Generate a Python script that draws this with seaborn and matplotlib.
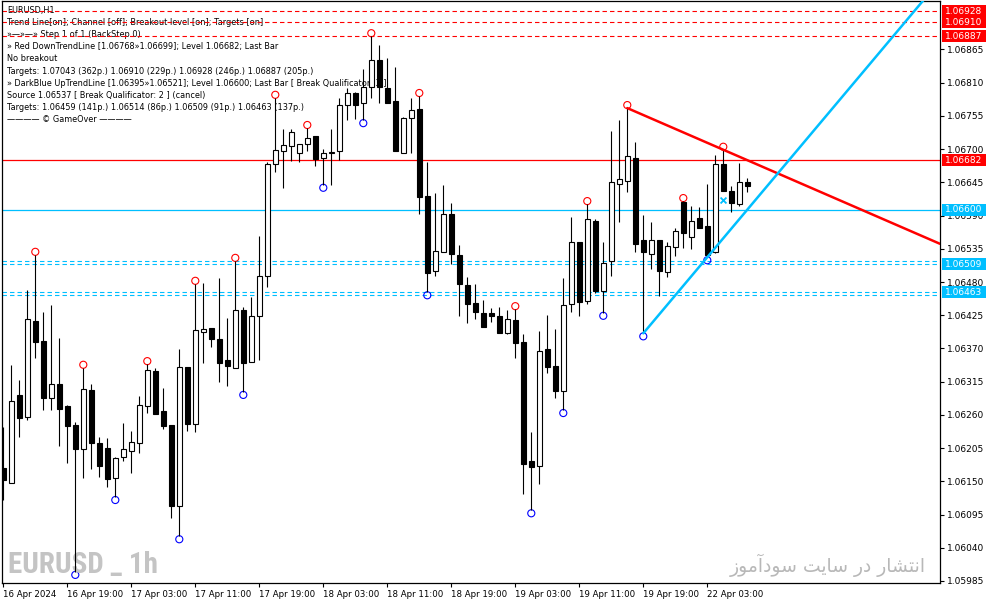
import matplotlib
matplotlib.use("Agg")
import matplotlib.pyplot as plt
import seaborn as sns
import numpy as np
from matplotlib import font_manager
from matplotlib.patches import Rectangle
from matplotlib.transforms import blended_transform_factory

# ---------------- data (EURUSD H1) ----------------
opens = [1.06172, 1.06147, 1.06293, 1.06256, 1.06415, 1.06382, 1.06288, 1.06311, 1.06275, 1.06243,
         1.06203, 1.06301, 1.06213, 1.06205, 1.06155, 1.06190, 1.06200, 1.06213, 1.06275, 1.06333,
         1.06266, 1.06243, 1.06109, 1.06339, 1.06245, 1.06397, 1.06404, 1.06386, 1.06351, 1.06338,
         1.06434, 1.06347, 1.06424, 1.06490, 1.06675, 1.06697, 1.06705, 1.06694, 1.06709, 1.06722,
         1.06685, 1.06694, 1.06697, 1.06773, 1.06793, 1.06776, 1.06803, 1.06848, 1.06801, 1.06780,
         1.06694, 1.06752, 1.06767, 1.06622, 1.06498, 1.06530, 1.06593, 1.06525, 1.06475, 1.06445,
         1.06429, 1.06429, 1.06424, 1.06396, 1.06417, 1.06381, 1.06184, 1.06175, 1.06369, 1.06341,
         1.06299, 1.06444, 1.06546, 1.06448, 1.06581, 1.06465, 1.06515, 1.06642, 1.06647, 1.06685,
         1.06550, 1.06526, 1.06550, 1.06497, 1.06538, 1.06612, 1.06555, 1.06586, 1.06573, 1.06530,
         1.06675, 1.06631, 1.06609, 1.06646]
highs = [1.06240, 1.06343, 1.06318, 1.06467, 1.06525, 1.06430, 1.06442, 1.06387, 1.06276, 1.06248,
         1.06338, 1.06311, 1.06223, 1.06222, 1.06190, 1.06246, 1.06233, 1.06291, 1.06344, 1.06338,
         1.06304, 1.06243, 1.06369, 1.06339, 1.06477, 1.06478, 1.06404, 1.06487, 1.06420, 1.06515,
         1.06439, 1.06455, 1.06556, 1.06679, 1.06785, 1.06733, 1.06733, 1.06709, 1.06735, 1.06722,
         1.06700, 1.06733, 1.06785, 1.06801, 1.06795, 1.06833, 1.06887, 1.06872, 1.06851, 1.06836,
         1.06753, 1.06785, 1.06788, 1.06679, 1.06627, 1.06641, 1.06611, 1.06541, 1.06488, 1.06477,
         1.06450, 1.06437, 1.06439, 1.06434, 1.06435, 1.06394, 1.06232, 1.06399, 1.06425, 1.06402,
         1.06487, 1.06588, 1.06546, 1.06609, 1.06584, 1.06546, 1.06730, 1.06748, 1.06768, 1.06712,
         1.06591, 1.06579, 1.06550, 1.06546, 1.06569, 1.06614, 1.06606, 1.06604, 1.06642, 1.06690,
         1.06699, 1.06639, 1.06677, 1.06652]
lows = [1.06119, 1.06147, 1.06223, 1.06251, 1.06354, 1.06268, 1.06268, 1.06208, 1.06180, 1.06000,
        1.06155, 1.06170, 1.06157, 1.06140, 1.06124, 1.06184, 1.06164, 1.06197, 1.06263, 1.06261,
        1.06237, 1.06089, 1.06059, 1.06233, 1.06232, 1.06346, 1.06372, 1.06314, 1.06308, 1.06338,
        1.06298, 1.06347, 1.06351, 1.06472, 1.06662, 1.06636, 1.06680, 1.06679, 1.06697, 1.06672,
        1.06641, 1.06641, 1.06682, 1.06748, 1.06750, 1.06748, 1.06785, 1.06776, 1.06776, 1.06697,
        1.06694, 1.06694, 1.06593, 1.06463, 1.06490, 1.06530, 1.06510, 1.06424, 1.06412, 1.06419,
        1.06405, 1.06414, 1.06396, 1.06394, 1.06354, 1.06129, 1.06102, 1.06145, 1.06329, 1.06288,
        1.06268, 1.06430, 1.06424, 1.06444, 1.06462, 1.06429, 1.06490, 1.06579, 1.06629, 1.06530,
        1.06395, 1.06501, 1.06457, 1.06488, 1.06523, 1.06536, 1.06535, 1.06569, 1.06521, 1.06528,
        1.06631, 1.06596, 1.06606, 1.06629]
closes = [1.06152, 1.06283, 1.06255, 1.06419, 1.06381, 1.06288, 1.06311, 1.06270, 1.06241, 1.06203,
          1.06303, 1.06213, 1.06175, 1.06154, 1.06189, 1.06203, 1.06215, 1.06276, 1.06334, 1.06261,
          1.06241, 1.06109, 1.06339, 1.06245, 1.06400, 1.06402, 1.06386, 1.06346, 1.06341, 1.06434,
          1.06346, 1.06424, 1.06490, 1.06675, 1.06699, 1.06707, 1.06728, 1.06709, 1.06719, 1.06684,
          1.06694, 1.06695, 1.06773, 1.06793, 1.06773, 1.06803, 1.06848, 1.06803, 1.06776, 1.06697,
          1.06752, 1.06765, 1.06621, 1.06495, 1.06531, 1.06593, 1.06526, 1.06477, 1.06444, 1.06430,
          1.06405, 1.06424, 1.06396, 1.06419, 1.06379, 1.06179, 1.06174, 1.06366, 1.06339, 1.06299,
          1.06442, 1.06546, 1.06447, 1.06584, 1.06465, 1.06511, 1.06646, 1.06651, 1.06689, 1.06543,
          1.06530, 1.06550, 1.06498, 1.06540, 1.06564, 1.06561, 1.06581, 1.06569, 1.06525, 1.06675,
          1.06631, 1.06611, 1.06646, 1.06639]

time_tick_bars = [0, 8, 16, 24, 32, 40, 48, 56, 64, 72, 80, 88]
time_tick_labels = ["16 Apr 2024", "16 Apr 19:00", "17 Apr 03:00", "17 Apr 11:00",
                    "17 Apr 19:00", "18 Apr 03:00", "18 Apr 11:00", "18 Apr 19:00",
                    "19 Apr 03:00", "19 Apr 11:00", "19 Apr 19:00", "22 Apr 03:00"]
price_ticks = [1.05985, 1.06040, 1.06095, 1.06150, 1.06205, 1.06260, 1.06315, 1.06370, 1.06425,
               1.06480, 1.06535, 1.06590, 1.06645, 1.06700, 1.06755, 1.06810, 1.06865]

fractal_high_bars = [4, 10, 18, 24, 29, 34, 38, 46, 52, 64, 73, 78, 85, 90]
fractal_low_bars = [9, 14, 22, 30, 40, 45, 53, 66, 70, 75, 80, 88]

red_targets = [1.06928, 1.06910, 1.06887]
red_level = 1.06682
blue_level = 1.06600
blue_targets = [1.06514, 1.06509, 1.06463, 1.06459]
red_labels = [1.06928, 1.06910, 1.06887, 1.06682]
blue_labels = [1.06600, 1.06509, 1.06463]

down_line_bars = [78, 90]
down_line_prices = [1.06768, 1.06699]
up_line_bars = [80, 88]
up_line_prices = [1.06395, 1.06521]
break_bar = [90]
break_price = [1.06616]

info_lines = [
    "EURUSD,H1",
    "Trend Line[on]; Channel [off]; Breakout level [on]; Targets [on]",
    "\u00bb\u2014\u00bb\u2014\u00bb Step 1 of 1 (BackStep 0)",
    "\u00bb Red DownTrendLine [1.06768\u00bb1.06699]; Level 1.06682; Last Bar",
    "No breakout",
    "Targets: 1.07043 (362p.) 1.06910 (229p.) 1.06928 (246p.) 1.06887 (205p.)",
    "\u00bb DarkBlue UpTrendLine [1.06395\u00bb1.06521]; Level 1.06600; Last Bar [ Break Qualificator: 3 ]",
    "Source 1.06537 [ Break Qualificator: 2 ] (cancel)",
    "Targets: 1.06459 (141p.) 1.06514 (86p.) 1.06509 (91p.) 1.06463 (137p.)",
    "\u2014\u2014\u2014\u2014 \u00a9 GameOver \u2014\u2014\u2014\u2014",
]
watermark_left = "EURUSD _ 1h"
watermark_right = "انتشار در سایت سودآموز"

# ---------------- helpers ----------------
AR_FORMS = {
    '\u0627': ('\uFE8D', '\uFE8E', None, None),
    '\u0622': ('\uFE81', '\uFE82', None, None),
    '\u0646': ('\uFEE5', '\uFEE6', '\uFEE7', '\uFEE8'),
    '\u062A': ('\uFE95', '\uFE96', '\uFE97', '\uFE98'),
    '\u0634': ('\uFEB5', '\uFEB6', '\uFEB7', '\uFEB8'),
    '\u0631': ('\uFEAD', '\uFEAE', None, None),
    '\u062F': ('\uFEA9', '\uFEAA', None, None),
    '\u0633': ('\uFEB1', '\uFEB2', '\uFEB3', '\uFEB4'),
    '\u06CC': ('\uFBFC', '\uFBFD', '\uFBFE', '\uFBFF'),
    '\u0648': ('\uFEED', '\uFEEE', None, None),
    '\u0645': ('\uFEE1', '\uFEE2', '\uFEE3', '\uFEE4'),
    '\u0632': ('\uFEAF', '\uFEB0', None, None),
}


def shape_rtl(s):
    out = []
    for i, ch in enumerate(s):
        f = AR_FORMS.get(ch)
        if f is None:
            out.append(ch)
            continue
        prev = s[i - 1] if i > 0 else ''
        nxt = s[i + 1] if i + 1 < len(s) else ''
        jp = prev in AR_FORMS and AR_FORMS[prev][2] is not None
        jn = nxt in AR_FORMS and f[2] is not None
        if jp and jn:
            out.append(f[3])
        elif jp:
            out.append(f[1])
        elif jn:
            out.append(f[2])
        else:
            out.append(f[0])
    return ''.join(reversed(out))


# ---------------- style ----------------
sns.set_style("white")
plt.rcParams['font.family'] = ['DejaVu Sans']
plt.rcParams['lines.scale_dashes'] = False

W, H = 987, 605
fig = plt.figure(figsize=(W / 100, H / 100), dpi=100)
AX_L, AX_R, AX_T, AX_B = 2, 940, 1, 583
ax = fig.add_axes([AX_L / W, 1 - AX_B / H, (AX_R - AX_L) / W, (AX_B - AX_T) / H])

ax.set_xlim(-0.1625, 117.09)
ax.set_ylim(1.059816, 1.069453)
ppx = (1.069453 - 1.059816) / (AX_B - AX_T)   # price per pixel


def ax_px(x, y):
    return (x - AX_L) / (AX_R - AX_L), (AX_B - y) / (AX_B - AX_T)


RED = "#ff0000"
CYAN = "#00bfff"

# levels
for lv in red_targets:
    ax.axhline(lv, color=RED, lw=0.8, dashes=(3.2, 2.2), zorder=1.5)
ax.axhline(red_level, color=RED, lw=0.9, zorder=1.5)
ax.axhline(blue_level, color=CYAN, lw=0.9, zorder=1.5)
for lv in blue_targets:
    ax.axhline(lv, color=CYAN, lw=0.8, dashes=(3.2, 2.2), zorder=1.5)

# info text
for i, line in enumerate(info_lines):
    tx, ty = ax_px(7, 10 + i * 12.2)
    ax.text(tx, ty, line, transform=ax.transAxes, fontsize=5.9, va='center', ha='left',
            color='black', zorder=1)

# watermarks
names = {f.name for f in font_manager.fontManager.ttflist}
wm_family, wm_size = 'Liberation Sans', 17
for cand in ['Roboto Condensed', 'Liberation Sans Narrow', 'Open Sans Condensed']:
    if cand in names:
        wm_family, wm_size = cand, 21
        break
if wm_family == 'Liberation Sans' and 'Liberation Sans' not in names:
    wm_family = 'DejaVu Sans'
    wm_size = 14
tx, ty = ax_px(8, 565)
ax.text(tx, ty, watermark_left, transform=ax.transAxes, fontsize=wm_size, fontweight='bold',
        family=[wm_family, 'DejaVu Sans'], color='#c4c4c4', va='center', ha='left', zorder=2.2)
tx, ty = ax_px(926, 565)
ax.text(tx, ty, shape_rtl(watermark_right), transform=ax.transAxes, fontsize=13.5,
        family=['DejaVu Sans'], color='#b8b8b8', va='center', ha='right', zorder=2.2)

# candles
x = np.arange(len(opens))
o = np.array(opens); c = np.array(closes); hi = np.array(highs); lo = np.array(lows)
ax.vlines(x, lo, hi, color='black', lw=0.8, zorder=2.5)
bull = c >= o
bottoms = np.minimum(o, c)
heights = np.maximum(np.abs(c - o), ppx * 0.3)
ax.bar(x, heights, bottom=bottoms, width=0.6,
       color=np.where(bull, 'white', 'black'), edgecolor='black', linewidth=0.8, zorder=3)

# fractal markers
sns.scatterplot(x=fractal_high_bars, y=[highs[i] + 3 * ppx for i in fractal_high_bars], ax=ax,
                marker='o', s=26, facecolor='none', edgecolor=RED, linewidth=0.8, zorder=2,
                legend=False)
sns.scatterplot(x=fractal_low_bars, y=[lows[i] - 3 * ppx for i in fractal_low_bars], ax=ax,
                marker='o', s=26, facecolor='none', edgecolor='#0000ff', linewidth=0.8, zorder=2,
                legend=False)

# trend lines (rays to the right edge)
xr = ax.get_xlim()[1]
s_dn = (down_line_prices[1] - down_line_prices[0]) / (down_line_bars[1] - down_line_bars[0])
sns.lineplot(x=[down_line_bars[0], xr], y=[down_line_prices[0], down_line_prices[0] + s_dn * (xr - down_line_bars[0])],
             ax=ax, color=RED, lw=1.8, sort=False, zorder=5)
s_up = (up_line_prices[1] - up_line_prices[0]) / (up_line_bars[1] - up_line_bars[0])
sns.lineplot(x=[up_line_bars[0], xr], y=[up_line_prices[0], up_line_prices[0] + s_up * (xr - up_line_bars[0])],
             ax=ax, color=CYAN, lw=1.8, sort=False, zorder=5)
sns.scatterplot(x=break_bar, y=break_price, ax=ax, marker='x', s=18, color=CYAN,
                linewidth=1.3, zorder=5, legend=False)

# axes cosmetics
for sp in ax.spines.values():
    sp.set_visible(True)
    sp.set_color('black')
    sp.set_linewidth(0.9)
ax.yaxis.tick_right()
ax.set_yticks(price_ticks)
ax.set_yticklabels([f"{p:.5f}" for p in price_ticks])
ax.set_xticks(time_tick_bars)
ax.set_xticklabels(time_tick_labels, ha='left')
ax.tick_params(axis='y', which='both', right=True, left=False, length=3, width=0.8,
               pad=2, labelsize=6.5, colors='black')
ax.tick_params(axis='x', which='both', bottom=True, length=3, width=0.8, pad=2,
               labelsize=6.2, colors='black')
ax.set_xlabel(""); ax.set_ylabel("")
ax.grid(False)

# price labels on right
bt = blended_transform_factory(ax.transAxes, ax.transData)
bw = 44 / (AX_R - AX_L)
bh = 12 * ppx
for lv, col in [(v, RED) for v in red_labels] + [(v, CYAN) for v in blue_labels]:
    ax.add_patch(Rectangle((1.002, lv - bh / 2), bw, bh, transform=bt, facecolor=col,
                           edgecolor='none', clip_on=False, zorder=10))
    ax.text(1.002 + bw / 2, lv, f"{lv:.5f}", transform=bt, color='white', fontsize=6.5,
            ha='center', va='center', clip_on=False, zorder=11)

fig.savefig("out.png", dpi=100, facecolor='white')
